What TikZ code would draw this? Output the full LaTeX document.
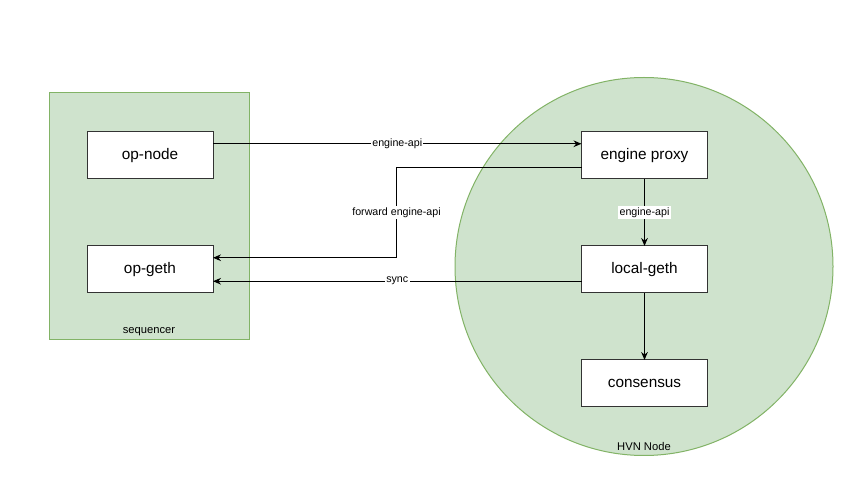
\documentclass[tikz,border=0pt]{standalone}
\usepackage{fontspec}
\setmainfont{Liberation Sans}
\usetikzlibrary{arrows.meta}
\definecolor{groupfill}{HTML}{CFE3CD}
\definecolor{groupline}{HTML}{82B366}
\begin{document}
\begin{tikzpicture}[x=0.75pt,y=-0.75pt,inner sep=0pt,outer sep=0pt,line width=0.75pt,
>={Stealth[length=6pt,width=5pt]},
sysblock/.style={draw=black!80,fill=white,rectangle,minimum width=94.5pt,minimum height=35.25pt,font=\fontsize{11.5}{13}\selectfont},
edgelabel/.style={fill=white,inner sep=1pt,font=\fontsize{8}{10}\selectfont},
grouplabel/.style={font=\fontsize{8.4}{10}\selectfont}]
\useasboundingbox (0,0) rectangle (864,491);
\draw (149,216.5) node[draw=groupline,fill=groupfill,rectangle,minimum width=150pt,minimum height=185.25pt] (seq) {};
\draw (644,266.5) node[draw=groupline,fill=groupfill,circle,minimum size=283.5pt] (hvn) {};
\draw (149,332) node[grouplabel] {sequencer};
\draw (644,446) node[grouplabel] {HVN Node};
\draw (150,155.5) node[sysblock] (opnode) {op-node};
\draw (150,269.5) node[sysblock] (opgeth) {op-geth};
\draw (644.5,155.5) node[sysblock] (proxy) {engine proxy};
\draw (644.5,269.5) node[sysblock] (localgeth) {local-geth};
\draw (644.5,383.5) node[sysblock] (consensus) {consensus};
\draw[->] ([yshift=8.8pt]opnode.east) -- node[edgelabel] {engine-api} ([yshift=8.8pt]proxy.west);
\draw[->] ([yshift=-8.8pt]proxy.west) -- ++(-185,0) |- node[pos=0.25,edgelabel] {forward engine-api} ([yshift=8.8pt]opgeth.east);
\draw[->] ([yshift=-8.8pt]localgeth.west) -- node[edgelabel] {sync} ([yshift=-8.8pt]opgeth.east);
\draw[->] (proxy) -- node[edgelabel] {engine-api} (localgeth);
\draw[->] (localgeth) -- (consensus);
\end{tikzpicture}
\end{document}
